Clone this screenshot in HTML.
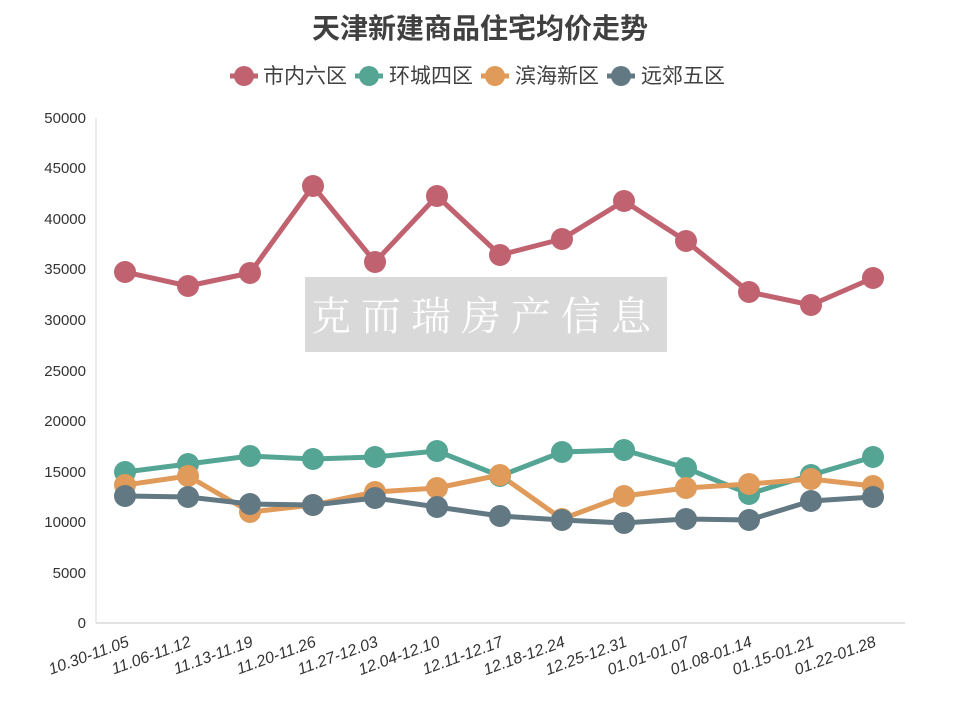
<!DOCTYPE html>
<html><head><meta charset="utf-8"><style>body{margin:0;background:#fff}</style></head><body>
<svg width="960" height="720" xmlns="http://www.w3.org/2000/svg" font-family="Liberation Sans, Noto Sans CJK SC, sans-serif">
<rect width="960" height="720" fill="#fff"/>
<text x="480" y="38" text-anchor="middle" font-size="28" font-weight="bold" fill="#404040" font-family="Noto Sans CJK SC, sans-serif">天津新建商品住宅均价走势</text>
<g font-size="21" fill="#404040" font-family="Noto Sans CJK SC, sans-serif">
<line x1="230" y1="76" x2="258" y2="76" stroke="#c0626f" stroke-width="5"/><circle cx="244" cy="76" r="10" fill="#c0626f"/><text x="263" y="83">市内六区</text>
<line x1="355" y1="76" x2="383" y2="76" stroke="#55a595" stroke-width="5"/><circle cx="369" cy="76" r="10" fill="#55a595"/><text x="389" y="83">环城四区</text>
<line x1="481" y1="76" x2="509" y2="76" stroke="#e09a5a" stroke-width="5"/><circle cx="495" cy="76" r="10" fill="#e09a5a"/><text x="515" y="83">滨海新区</text>
<line x1="607" y1="76" x2="635" y2="76" stroke="#627883" stroke-width="5"/><circle cx="621" cy="76" r="10" fill="#627883"/><text x="641" y="83">远郊五区</text>
</g>
<line x1="96" y1="623" x2="905" y2="623" stroke="#d9d9d9" stroke-width="1.5"/>
<line x1="96" y1="118" x2="96" y2="623" stroke="#d9d9d9" stroke-width="1"/>
<g font-size="15" fill="#333" text-anchor="end">
<text x="86" y="628">0</text><text x="86" y="578">5000</text><text x="86" y="527">10000</text><text x="86" y="477">15000</text><text x="86" y="426">20000</text><text x="86" y="376">25000</text><text x="86" y="325">30000</text><text x="86" y="274">35000</text><text x="86" y="224">40000</text><text x="86" y="173">45000</text><text x="86" y="123">50000</text>
</g>
<g font-size="16" fill="#333" text-anchor="end" font-style="italic">
<text transform="translate(130,646) rotate(-20)">10.30-11.05</text>
<text transform="translate(192,646) rotate(-20)">11.06-11.12</text>
<text transform="translate(254,646) rotate(-20)">11.13-11.19</text>
<text transform="translate(317,646) rotate(-20)">11.20-11.26</text>
<text transform="translate(379,646) rotate(-20)">11.27-12.03</text>
<text transform="translate(441,646) rotate(-20)">12.04-12.10</text>
<text transform="translate(504,646) rotate(-20)">12.11-12.17</text>
<text transform="translate(566,646) rotate(-20)">12.18-12.24</text>
<text transform="translate(628,646) rotate(-20)">12.25-12.31</text>
<text transform="translate(690,646) rotate(-20)">01.01-01.07</text>
<text transform="translate(753,646) rotate(-20)">01.08-01.14</text>
<text transform="translate(815,646) rotate(-20)">01.15-01.21</text>
<text transform="translate(877,646) rotate(-20)">01.22-01.28</text>
</g>
<rect x="305" y="277" width="362" height="75" fill="#d9d9d9"/>
<text x="486" y="330" text-anchor="middle" font-size="40" fill="#fff" letter-spacing="10" font-family="Noto Serif CJK SC, serif">克而瑞房产信息</text>
<g fill="none" stroke-width="5" stroke-linejoin="round">
<polyline stroke="#c0626f" points="125,272 188,286 250,273 313,186 375,262 437,196 500,255 562,239 624,201 686,241 749,292 811,305 873,278"/>
<polyline stroke="#55a595" points="125,472 188,464 250,456 313,459 375,457 437,451 500,476 562,452 624,450 686,468 749,494 811,475 873,457"/>
<polyline stroke="#e09a5a" points="125,485 188,476 250,512 313,505 375,492 437,488 500,475 562,519 624,496 686,488 749,484 811,479 873,486"/>
<polyline stroke="#627883" points="125,496 188,497 250,504 313,505 375,498 437,507 500,516 562,520 624,523 686,519 749,520 811,501 873,497"/>
</g>
<g fill="#c0626f"><circle cx="125" cy="272" r="11"/><circle cx="188" cy="286" r="11"/><circle cx="250" cy="273" r="11"/><circle cx="313" cy="186" r="11"/><circle cx="375" cy="262" r="11"/><circle cx="437" cy="196" r="11"/><circle cx="500" cy="255" r="11"/><circle cx="562" cy="239" r="11"/><circle cx="624" cy="201" r="11"/><circle cx="686" cy="241" r="11"/><circle cx="749" cy="292" r="11"/><circle cx="811" cy="305" r="11"/><circle cx="873" cy="278" r="11"/></g>
<g fill="#55a595"><circle cx="125" cy="472" r="11"/><circle cx="188" cy="464" r="11"/><circle cx="250" cy="456" r="11"/><circle cx="313" cy="459" r="11"/><circle cx="375" cy="457" r="11"/><circle cx="437" cy="451" r="11"/><circle cx="500" cy="476" r="11"/><circle cx="562" cy="452" r="11"/><circle cx="624" cy="450" r="11"/><circle cx="686" cy="468" r="11"/><circle cx="749" cy="494" r="11"/><circle cx="811" cy="475" r="11"/><circle cx="873" cy="457" r="11"/></g>
<g fill="#e09a5a"><circle cx="125" cy="485" r="11"/><circle cx="188" cy="476" r="11"/><circle cx="250" cy="512" r="11"/><circle cx="313" cy="505" r="11"/><circle cx="375" cy="492" r="11"/><circle cx="437" cy="488" r="11"/><circle cx="500" cy="475" r="11"/><circle cx="562" cy="519" r="11"/><circle cx="624" cy="496" r="11"/><circle cx="686" cy="488" r="11"/><circle cx="749" cy="484" r="11"/><circle cx="811" cy="479" r="11"/><circle cx="873" cy="486" r="11"/></g>
<g fill="#627883"><circle cx="125" cy="496" r="11"/><circle cx="188" cy="497" r="11"/><circle cx="250" cy="504" r="11"/><circle cx="313" cy="505" r="11"/><circle cx="375" cy="498" r="11"/><circle cx="437" cy="507" r="11"/><circle cx="500" cy="516" r="11"/><circle cx="562" cy="520" r="11"/><circle cx="624" cy="523" r="11"/><circle cx="686" cy="519" r="11"/><circle cx="749" cy="520" r="11"/><circle cx="811" cy="501" r="11"/><circle cx="873" cy="497" r="11"/></g>
</svg>
</body></html>
